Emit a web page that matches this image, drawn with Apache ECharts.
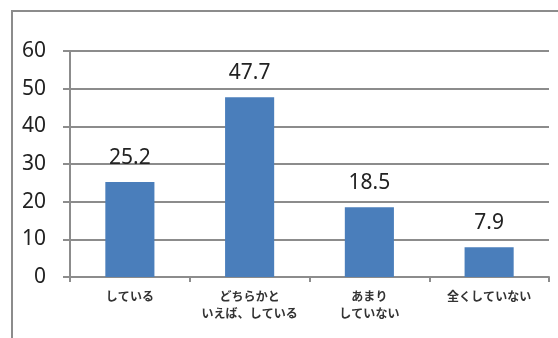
<!DOCTYPE html>
<html>
<head>
<meta charset="utf-8">
<script src="https://cdn.jsdelivr.net/npm/echarts@6/dist/echarts.min.js"></script>
<style>
  html, body { margin: 0; padding: 0; background: #fff; }
  #container { width: 558px; height: 338px; }
</style>
</head>
<body>
<div id="container"></div>
<script>
// 回答カテゴリ
var categories = ['している', 'どちらかと\nいえば、している', 'あまり\nしていない', '全くしていない'];
// 割合（%）
var values = [25.2, 47.7, 18.5, 7.9];
// 縦軸目盛
var yTicks = [0, 10, 20, 30, 40, 50, 60];

var myChart = echarts.init(document.getElementById('container'));
var gray = '#8c8c8c';

var option = {
    animation: false,
    backgroundColor: '#fff',
    // 外枠（左と上だけ見えている）
    graphic: [{
        type: 'polyline',
        shape: { points: [[12, 338], [12, 11], [558, 11]] },
        style: { stroke: gray, lineWidth: 2, fill: null }
    }],
    grid: {
        left: 70,
        right: 9,
        top: 51,
        bottom: 61
    },
    xAxis: {
        type: 'category',
        data: categories,
        axisLine: { lineStyle: { color: gray, width: 2 } },
        axisTick: { show: true, length: 5, lineStyle: { color: gray, width: 2 } },
        axisLabel: {
            interval: 0,
            hideOverlap: false,
            margin: 11,
            fontSize: 12,
            lineHeight: 17,
            fontWeight: 'bold',
            color: '#333',
            fontFamily: 'Noto Sans CJK JP'
        }
    },
    yAxis: {
        type: 'value',
        min: yTicks[0],
        max: yTicks[yTicks.length - 1],
        interval: 10,
        axisLine: { show: true, lineStyle: { color: gray, width: 2 } },
        axisTick: { show: true, length: 7, lineStyle: { color: gray, width: 2 } },
        splitLine: { lineStyle: { color: gray, width: 2 } },
        axisLabel: {
            margin: 24,
            fontSize: 21,
            color: '#222',
            fontFamily: 'Noto Sans'
        }
    },
    series: [{
        type: 'bar',
        data: values,
        barWidth: '41%',
        itemStyle: { color: '#4a7ebb' },
        label: {
            show: true,
            position: 'top',
            distance: 14,
            fontSize: 21,
            color: '#222',
            fontFamily: 'Noto Sans'
        }
    }]
};
myChart.setOption(option);
</script>
</body>
</html>
